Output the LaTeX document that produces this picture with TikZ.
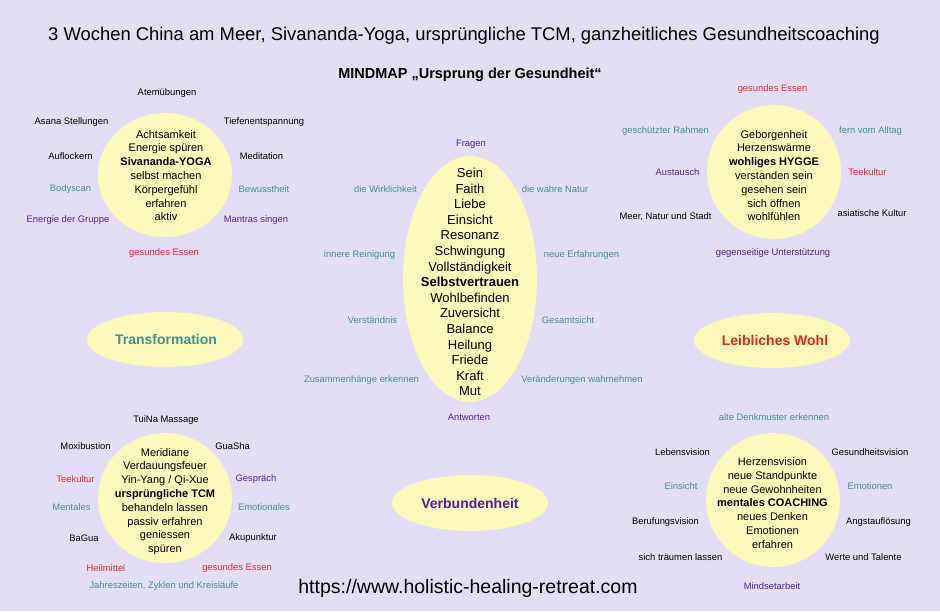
\documentclass[tikz,border=0pt]{standalone}
\usepackage{fontspec}
\setmainfont{Liberation Sans}
\usetikzlibrary{positioning}
\definecolor{mmback}{RGB}{227,222,245}
\definecolor{mmyellow}{RGB}{250,248,186}
\definecolor{mmteal}{RGB}{72,142,142}
\definecolor{mmpurple}{RGB}{82,32,150}
\definecolor{mmred}{RGB}{222,42,30}

\begin{document}
\begin{tikzpicture}[x=1pt, y=1pt,
	bubble/.style={fill=mmyellow},
	lbl/.style={font=\fontsize{9.4}{11}\selectfont},
	tl/.style={lbl, text=mmteal},
	pl/.style={lbl, text=mmpurple},
	rl/.style={lbl, text=mmred},
	core/.style={align=center, font=\fontsize{11}{13.8}\selectfont},
	theme/.style={font=\fontsize{14}{16}\selectfont\bfseries}]
	\tikzstyle{every node}+=[inner sep=0pt]
	\fill [mmback] (0,0) rectangle (940,-611);
	\node [font=\fontsize{18.4}{21}\selectfont] (title) at (464,-36) {3 Wochen China am Meer, Sivananda-Yoga, ursprüngliche TCM, ganzheitliches Gesundheitscoaching};
	\node [font=\fontsize{14.5}{17}\selectfont\bfseries] (subtitle) at (470,-75) {MINDMAP „Ursprung der Gesundheit“};
	% yoga
	\fill [bubble] (165,-175) ellipse [x radius=67, y radius=62];
	\node [core] (yoga) at (166,-175.5) {Achtsamkeit\\Energie spüren\\\textbf{Sivananda-YOGA}\\selbst machen\\Körpergefühl\\erfahren\\aktiv};
	\node [lbl] (atem) at (167,-93) {Atemübungen};
	\node [lbl] (asana) at (71.5,-122.5) {Asana Stellungen};
	\node [lbl] (tiefen) at (264,-122.5) {Tiefenentspannung};
	\node [lbl] (aufl) at (70.5,-156) {Auflockern};
	\node [lbl] (medit) at (261.5,-156) {Meditation};
	\node [tl] (body) at (70.5,-189.5) {Bodyscan};
	\node [tl] (bewusst) at (264,-189.5) {Bewusstheit};
	\node [pl] (gruppe) at (68,-220) {Energie der Gruppe};
	\node [pl] (mantra) at (256,-220) {Mantras singen};
	\node [rl] (essena) at (164,-253) {gesundes Essen};
	% hygge
	\fill [bubble] (774,-172) ellipse [x radius=67, y radius=67];
	\node [core] (hygge) at (774,-175.5) {Geborgenheit\\Herzenswärme\\\textbf{wohliges HYGGE}\\verstanden sein\\gesehen sein\\sich öffnen\\wohlfühlen};
	\node [rl] (essenb) at (772.5,-89) {gesundes Essen};
	\node [tl] (rahmen) at (665.5,-131) {geschützter Rahmen};
	\node [tl] (alltag) at (870.5,-131) {fern vom Alltag};
	\node [pl] (austausch) at (677.5,-172) {Austausch};
	\node [rl] (teea) at (867.5,-172) {Teekultur};
	\node [lbl] (meer) at (665.5,-216.5) {Meer, Natur und Stadt};
	\node [lbl] (asia) at (872,-213.5) {asiatische Kultur};
	\node [pl] (unterst) at (773,-253) {gegenseitige Unterstützung};
	% sein
	\fill [bubble] (470,-279) ellipse [x radius=67, y radius=123];
	\node [align=center, font=\fontsize{13}{15.6}\selectfont] (sein) at (470,-282) {Sein\\Faith\\Liebe\\Einsicht\\Resonanz\\Schwingung\\Vollständigkeit\\\textbf{Selbstvertrauen}\\Wohlbefinden\\Zuversicht\\Balance\\Heilung\\Friede\\Kraft\\Mut};
	\node [pl] (fragen) at (471,-144.5) {Fragen};
	\node [tl] (wirkl) at (385.5,-189) {die Wirklichkeit};
	\node [tl] (natur) at (555,-189) {die wahre Natur};
	\node [tl] (reinig) at (359.5,-255) {innere Reinigung};
	\node [tl] (erfahr) at (581.5,-255) {neue Erfahrungen};
	\node [tl] (verst) at (372.5,-320) {Verständnis};
	\node [tl] (gesamt) at (568,-320) {Gesamtsicht};
	\node [tl] (zusamm) at (361.5,-380) {Zusammenhänge erkennen};
	\node [tl] (veraend) at (582,-380) {Veränderungen wahrnehmen};
	\node [pl] (antw) at (469,-417.5) {Antworten};
	% themes
	\fill [bubble] (165,-339.5) ellipse [x radius=78, y radius=27.5];
	\node [theme, text=mmteal] (transf) at (166,-339.5) {Transformation};
	\fill [bubble] (772,-340.5) ellipse [x radius=78, y radius=27.5];
	\node [theme, text=mmred] (wohl) at (775,-340.5) {Leibliches Wohl};
	\fill [bubble] (470,-503) ellipse [x radius=78, y radius=28];
	\node [theme, text=mmpurple] (verbund) at (470,-503) {Verbundenheit};
	% tcm
	\fill [bubble] (165,-498) ellipse [x radius=67, y radius=65];
	\node [core] (tcm) at (165,-501.5) {Meridiane\\Verdauungsfeuer\\Yin-Yang / Qi-Xue\\\textbf{ursprüngliche TCM}\\behandeln lassen\\passiv erfahren\\geniessen\\spüren};
	\node [lbl] (tuina) at (166,-420) {TuiNa Massage};
	\node [lbl] (moxi) at (85.5,-446.5) {Moxibustion};
	\node [lbl] (guasha) at (232.5,-446.5) {GuaSha};
	\node [rl] (teeb) at (75.5,-479.5) {Teekultur};
	\node [pl] (gespr) at (256,-479.5) {Gespräch};
	\node [tl] (mental) at (71.5,-507.5) {Mentales};
	\node [tl] (emotio) at (264,-507.5) {Emotionales};
	\node [lbl] (bagua) at (84,-538.5) {BaGua};
	\node [lbl] (akup) at (253,-538.5) {Akupunktur};
	\node [rl] (heil) at (106,-568.5) {Heilmittel};
	\node [rl] (essenc) at (237,-568.5) {gesundes Essen};
	\node [tl] (zyklen) at (164,-586.5) {Jahreszeiten, Zyklen und Kreisläufe};
	% coaching
	\fill [bubble] (773,-500) ellipse [x radius=67, y radius=67];
	\node [core] (coach) at (772.5,-503) {Herzensvision\\neue Standpunkte\\neue Gewohnheiten\\\textbf{mentales COACHING}\\neues Denken\\Emotionen\\erfahren};
	\node [tl] (denkm) at (774,-417.5) {alte Denkmuster erkennen};
	\node [lbl] (lebens) at (682.5,-452.5) {Lebensvision};
	\node [lbl] (gesund) at (870,-452.5) {Gesundheitsvision};
	\node [tl] (einsicht) at (681,-486.5) {Einsicht};
	\node [tl] (emotion) at (870,-486.5) {Emotionen};
	\node [lbl] (beruf) at (665.5,-522.5) {Berufungsvision};
	\node [lbl] (angst) at (878.5,-522.5) {Angstauflösung};
	\node [lbl] (traum) at (680.5,-557.5) {sich träumen lassen};
	\node [lbl] (werte) at (863.5,-557.5) {Werte und Talente};
	\node [pl] (mindset) at (772,-586.5) {Mindsetarbeit};
	\node [font=\fontsize{19.5}{22}\selectfont] (url) at (468,-588) {https://www.holistic-healing-retreat.com};
\end{tikzpicture}
\end{document}
